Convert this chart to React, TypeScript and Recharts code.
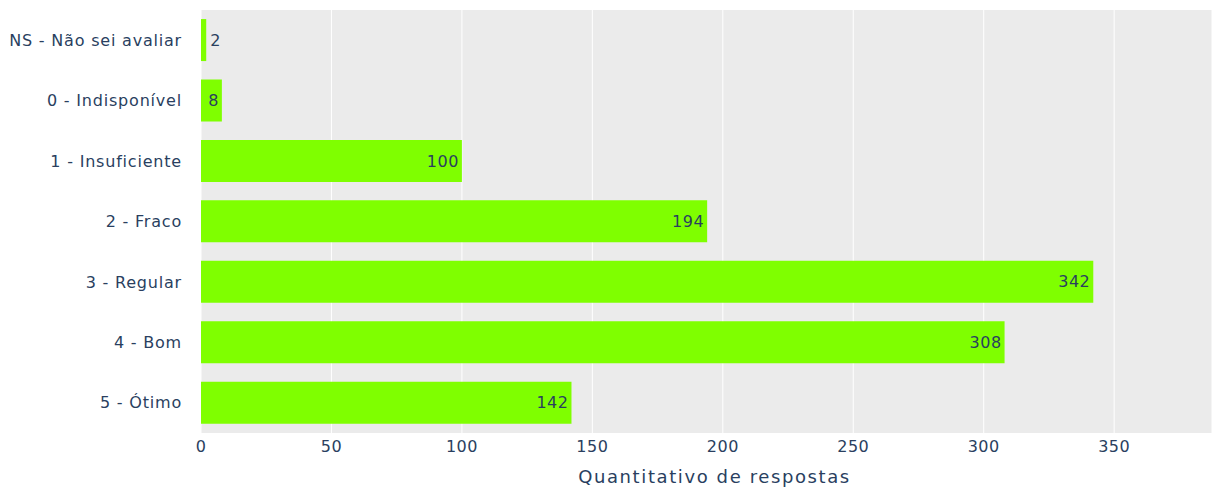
import React from "react"
import {
  BarChart,
  Bar,
  XAxis,
  YAxis,
  CartesianGrid,
  LabelList,
  Label,
} from "recharts"

const categories = [
  "NS - Não sei avaliar",
  "0 - Indisponível",
  "1 - Insuficiente",
  "2 - Fraco",
  "3 - Regular",
  "4 - Bom",
  "5 - Ótimo",
]
const counts = [2, 8, 100, 194, 342, 308, 142]
const xTicks = [0, 50, 100, 150, 200, 250, 300, 350]

const data = categories.map((c, i) => ({ category: c, value: counts[i] }))

const FONT = "'DejaVu Sans', Verdana, sans-serif"
const TEXT = "#2a3f5f"

function BarValueLabel(props: any) {
  const { x, y, width, height, value } = props
  const txt = String(value)
  const textW = txt.length * 10.5 + 6
  const cy = y + height / 2
  if (width < textW) {
    return (
      <text x={x + width + 4} y={cy} dy="0.35em" fontSize={16} fontFamily={FONT} fill={TEXT} textAnchor="start" letterSpacing={0.5}>
        {txt}
      </text>
    )
  }
  return (
    <text x={x + width - 3} y={cy} dy="0.35em" fontSize={16} fontFamily={FONT} fill={TEXT} textAnchor="end" letterSpacing={0.5}>
      {txt}
    </text>
  )
}

export default function App() {
  return (
    <div style={{ position: "absolute", left: 0, top: 0, background: "#fff" }}>
      <BarChart
        width={1212}
        height={490}
        data={data}
        layout="vertical"
        margin={{ top: 10, right: 0, bottom: 0, left: 0 }}
        barCategoryGap="15%"
      >
        <CartesianGrid fill="#ebebeb" stroke="#ffffff" horizontal={false} vertical={true} />
        <XAxis
          type="number"
          domain={[0, 387.5]}
          ticks={xTicks}
          allowDataOverflow
          height={57}
          axisLine={false}
          tickLine={false}
          tickSize={0}
          tickMargin={8}
          tick={{ fill: TEXT, fontSize: 16, fontFamily: FONT, letterSpacing: 0.5 }}
        >
          <Label
            value="Quantitativo de respostas"
            position="insideBottom"
            offset={7}
            dx={8}
            style={{ fill: TEXT, fontSize: 18, fontFamily: FONT, letterSpacing: 1.6 }}
          />
        </XAxis>
        <YAxis
          type="category"
          dataKey="category"
          width={201}
          axisLine={false}
          tickLine={false}
          tickSize={0}
          tickMargin={19}
          tick={{ fill: TEXT, fontSize: 16, fontFamily: FONT, letterSpacing: 0.8 }}
        />
        <Bar dataKey="value" fill="#7fff00" isAnimationActive={false}>
          <LabelList dataKey="value" content={BarValueLabel} />
        </Bar>
      </BarChart>
    </div>
  )
}
